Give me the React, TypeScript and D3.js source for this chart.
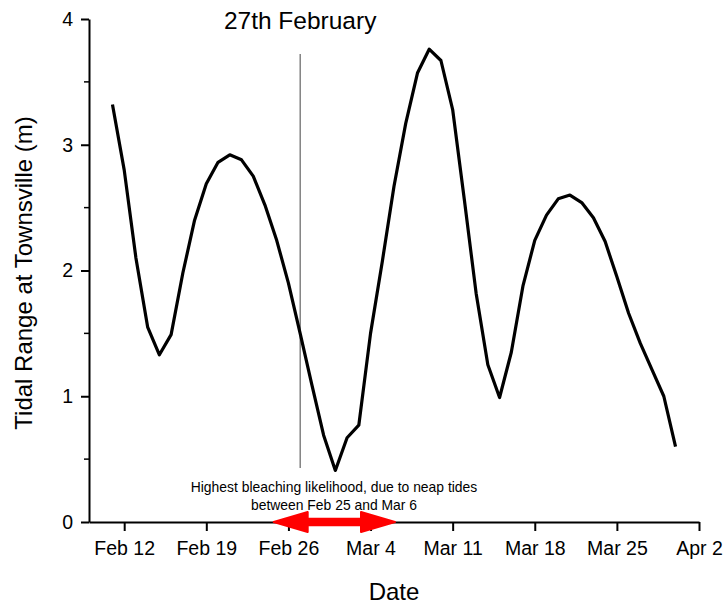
import { useEffect, useRef } from 'react';
import * as d3 from 'd3';

// daily tidal range at Townsville (m)
const dates = [
  '2024-02-11', '2024-02-12', '2024-02-13', '2024-02-14', '2024-02-15', '2024-02-16',
  '2024-02-17', '2024-02-18', '2024-02-19', '2024-02-20', '2024-02-21', '2024-02-22',
  '2024-02-23', '2024-02-24', '2024-02-25', '2024-02-26', '2024-02-27', '2024-02-28',
  '2024-02-29', '2024-03-01', '2024-03-02', '2024-03-03', '2024-03-04', '2024-03-05',
  '2024-03-06', '2024-03-07', '2024-03-08', '2024-03-09', '2024-03-10', '2024-03-11',
  '2024-03-12', '2024-03-13', '2024-03-14', '2024-03-15', '2024-03-16', '2024-03-17',
  '2024-03-18', '2024-03-19', '2024-03-20', '2024-03-21', '2024-03-22', '2024-03-23',
  '2024-03-24', '2024-03-25', '2024-03-26', '2024-03-27', '2024-03-28', '2024-03-29',
  '2024-03-30'
];
const tidalRange = [
  3.32, 2.80, 2.10, 1.55, 1.33, 1.49,
  1.98, 2.40, 2.69, 2.86, 2.92, 2.88,
  2.75, 2.52, 2.24, 1.90, 1.50, 1.09,
  0.69, 0.41, 0.67, 0.77, 1.50, 2.07,
  2.67, 3.17, 3.57, 3.76, 3.67, 3.28,
  2.56, 1.82, 1.25, 0.99, 1.35, 1.88,
  2.24, 2.44, 2.57, 2.60, 2.54, 2.42,
  2.23, 1.95, 1.66, 1.42, 1.21, 1.00,
  0.60
];

const xTickDates = ['2024-02-12', '2024-02-19', '2024-02-26', '2024-03-04', '2024-03-11', '2024-03-18', '2024-03-25', '2024-04-01'];
const xTickLabels = ['Feb 12', 'Feb 19', 'Feb 26', 'Mar 4', 'Mar 11', 'Mar 18', 'Mar 25', 'Apr 2'];
const yTicks = [0, 1, 2, 3, 4];
const yMinorTicks = [0.5, 1.5, 2.5, 3.5];

const markerDate = '2024-02-27';
const neapStart = '2024-02-25';
const neapEnd = '2024-03-06';

export default function App() {
  const ref = useRef<SVGSVGElement>(null);

  useEffect(() => {
    if (!ref.current) return;
    const svg = d3.select(ref.current);
    svg.selectAll('*').remove();

    const font = 'Arial, "Liberation Sans", sans-serif';
    const parse = (s: string) => d3.timeParse('%Y-%m-%d')(s) as Date;

    const x = d3.scaleTime()
      .domain([parse('2024-02-09'), parse('2024-04-01')])
      .range([89, 699]);
    const y = d3.scaleLinear().domain([0, 4]).range([522, 19]);

    // axes
    const yAxis = svg.append('g')
      .attr('transform', 'translate(89,0)')
      .call(d3.axisLeft(y).tickValues(yTicks).tickFormat(d3.format('d')).tickSize(8).tickSizeOuter(0).tickPadding(8));
    yAxis.select('.domain').attr('stroke-width', 2);
    yAxis.selectAll('.tick line').attr('stroke-width', 2);
    yAxis.selectAll('.tick text').style('font-size', '19.5px').style('font-family', font).attr('fill', '#000');
    yAxis.append('g').selectAll('line')
      .data(yMinorTicks)
      .enter()
      .append('line')
      .attr('x1', -5)
      .attr('x2', 0)
      .attr('y1', d => y(d))
      .attr('y2', d => y(d))
      .attr('stroke', '#000')
      .attr('stroke-width', 1.5);

    const xAxis = svg.append('g')
      .attr('transform', 'translate(0,522)')
      .call(d3.axisBottom(x)
        .tickValues(xTickDates.map(parse))
        .tickFormat((_, i) => xTickLabels[i])
        .tickSize(9).tickSizeOuter(0).tickPadding(10));
    xAxis.select('.domain').attr('stroke-width', 2);
    xAxis.selectAll('.tick line').attr('stroke-width', 2);
    xAxis.selectAll('.tick text').style('font-size', '19.5px').style('font-family', font).attr('fill', '#000');

    // axis titles
    svg.append('text')
      .attr('x', 394)
      .attr('y', 600)
      .attr('text-anchor', 'middle')
      .style('font-size', '24px')
      .style('font-family', font)
      .text('Date');
    svg.append('text')
      .attr('transform', 'translate(32,273) rotate(-90)')
      .attr('text-anchor', 'middle')
      .style('font-size', '24px')
      .style('font-family', font)
      .text('Tidal Range at Townsville (m)');

    // marker line for 27th February
    const mx = x(parse(markerDate));
    svg.append('line')
      .attr('x1', mx).attr('x2', mx)
      .attr('y1', 54).attr('y2', 468)
      .attr('stroke', '#444')
      .attr('stroke-width', 1);
    svg.append('text')
      .attr('x', mx)
      .attr('y', 29)
      .attr('text-anchor', 'middle')
      .style('font-size', '24.5px')
      .style('font-family', font)
      .text('27th February');

    // data line
    const line = d3.line<number>()
      .x((_, i) => x(parse(dates[i])))
      .y(d => y(d));
    svg.append('path')
      .datum(tidalRange)
      .attr('d', line)
      .attr('fill', 'none')
      .attr('stroke', '#000')
      .attr('stroke-width', 3.2)
      .attr('stroke-linejoin', 'round');

    // neap tide annotation
    const ax1 = x(parse(neapStart)) - 3;
    const ax2 = x(parse(neapEnd)) + 1;
    const ay = y(0);
    const head = 34;
    const hh = 10;
    const sh = 3.2;
    svg.append('path')
      .attr('d', `M${ax1},${ay} L${ax1 + head},${ay - hh} L${ax1 + head},${ay - sh} L${ax2 - head},${ay - sh} L${ax2 - head},${ay - hh} L${ax2},${ay} L${ax2 - head},${ay + hh} L${ax2 - head},${ay + sh} L${ax1 + head},${ay + sh} L${ax1 + head},${ay + hh} Z`)
      .attr('fill', '#ff0000')
      .attr('stroke', '#ff0000')
      .attr('stroke-width', 2)
      .attr('stroke-linejoin', 'round');

    const note = svg.append('text')
      .attr('text-anchor', 'middle')
      .style('font-size', '13.9px')
      .style('font-family', font);
    note.append('tspan').attr('x', 334).attr('y', 491.5).text('Highest bleaching likelihood, due to neap tides');
    note.append('tspan').attr('x', 334).attr('y', 509.5).text('between Feb 25 and Mar 6');
  }, []);

  return (
    <div style={{ position: 'absolute', left: 0, top: 0 }}>
      <svg ref={ref} width={724} height={605} style={{ display: 'block', background: '#fff' }} />
    </div>
  );
}
